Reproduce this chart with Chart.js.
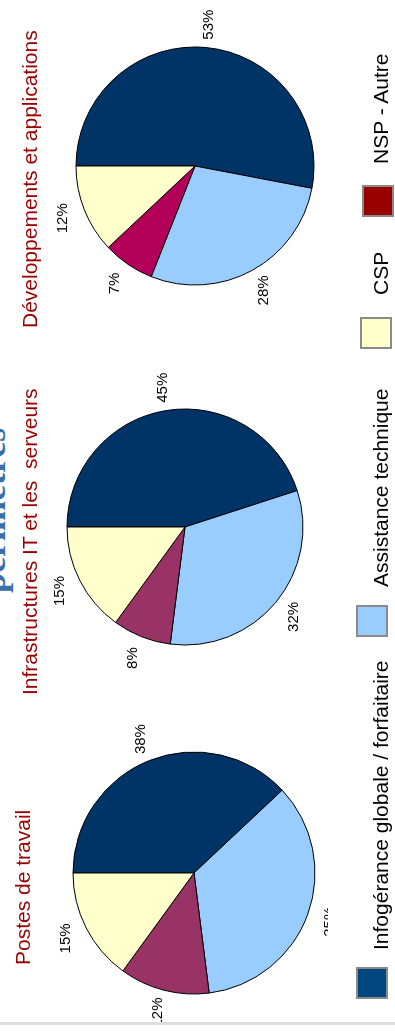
<!DOCTYPE html>
<html><head><meta charset="utf-8">
<script src="https://cdn.jsdelivr.net/npm/chart.js@4.4.1/dist/chart.umd.min.js"></script>
<style>
html,body{margin:0;padding:0;background:#fff;overflow:hidden;width:395px;height:1032px;}
#page{position:absolute;left:0;top:0;width:1032px;height:395px;transform-origin:0 0;transform:translateY(1032px) rotate(-90deg);font-family:"Liberation Sans",Arial,sans-serif;overflow:hidden;background:#fff;}
canvas.c{position:absolute;z-index:1;}
.title{position:absolute;color:#990000;font-size:21px;line-height:21px;white-space:pre;z-index:1;}
.big{position:absolute;color:#3a6ea8;font-family:"Liberation Serif","Times New Roman",serif;font-weight:bold;font-size:36px;line-height:36px;white-space:pre;z-index:1;}
#mask{position:absolute;left:13px;top:328px;width:1019px;height:67px;background:#fff;z-index:2;}
.sq{position:absolute;width:32px;height:32px;box-sizing:border-box;border:2px solid #8a8a8a;z-index:3;}
.lt{position:absolute;top:370px;font-size:21px;line-height:21px;color:#000;white-space:pre;z-index:3;}
#edge{position:absolute;left:0;top:0;width:7px;height:395px;background:#fff;z-index:4;}
#line{position:absolute;left:7px;top:0;width:3px;height:395px;background:#dcdcdc;z-index:4;}
</style></head>
<body>
<div id="page">
  <div class="big" style="left:439px;top:-25px;">périmètres</div>
  <div id="mask"></div>
  <div id="edge"></div><div id="line"></div>
</div>
<script>
// ---- data ----
const categories = ["Infogérance globale / forfaitaire", "Assistance technique", "NSP - Autre", "CSP"];
const chartTitles = ["Postes de travail", "Infrastructures IT et les  serveurs", "Développements et applications"];
const postesValues = [38, 35, 12, 15];
const infraValues = [45, 32, 8, 15];
const devValues = [53, 28, 7, 12];
const legendOrder = ["Infogérance globale / forfaitaire", "Assistance technique", "CSP", "NSP - Autre"];

// ---- styles / layout ----
const sliceColors = [
  ["#003366", "#99CCFF", "#993366", "#FFFFCC"],
  ["#003366", "#99CCFF", "#993366", "#FFFFCC"],
  ["#003366", "#99CCFF", "#B30059", "#FFFFCC"]
];
const legendColors = {"Infogérance globale / forfaitaire":"#00467F","Assistance technique":"#99CCFF","CSP":"#FFFFCC","NSP - Autre":"#990000"};
const pies = [
  {values: postesValues, cx: 159, cy: 194, r: 121, title: {left: 67, top: 12}},
  {values: infraValues,  cx: 505, cy: 185, r: 118, title: {left: 337, top: 19}},
  {values: devValues,    cx: 866, cy: 195, r: 119, title: {left: 704, top: 19}}
];
const legendPos = [
  {sq: [33, 356], txt: 82},
  {sq: [395, 356], txt: 445},
  {sq: [683, 360], txt: 737},
  {sq: [815, 362], txt: 868}
];

const page = document.getElementById('page');
const SIZE = 340;

const labelPlugin = {
  id: 'pctLabels',
  afterDatasetsDraw(chart) {
    const ctx = chart.ctx;
    const meta = chart.getDatasetMeta(0);
    const vals = chart.data.datasets[0].data;
    ctx.save();
    ctx.font = '15px "Liberation Sans", Arial, sans-serif';
    ctx.fillStyle = '#000';
    ctx.textAlign = 'center';
    ctx.textBaseline = 'middle';
    meta.data.forEach((arc, i) => {
      const p = arc.getProps(['x','y','startAngle','endAngle','outerRadius'], true);
      const mid = (p.startAngle + p.endAngle) / 2;
      const d = p.outerRadius + 23;
      ctx.fillText(vals[i] + '%', p.x + Math.cos(mid) * d, p.y + Math.sin(mid) * d);
    });
    ctx.restore();
  }
};

pies.forEach((pie, k) => {
  const cv = document.createElement('canvas');
  cv.className = 'c';
  cv.width = SIZE; cv.height = SIZE;
  cv.style.width = SIZE + 'px'; cv.style.height = SIZE + 'px';
  cv.style.left = (pie.cx - SIZE / 2) + 'px';
  cv.style.top = (pie.cy - SIZE / 2) + 'px';
  page.appendChild(cv);
  new Chart(cv, {
    type: 'pie',
    data: {
      labels: categories,
      datasets: [{
        data: pie.values,
        backgroundColor: sliceColors[k],
        borderColor: '#000',
        borderWidth: 1,
        hoverOffset: 0
      }]
    },
    options: {
      responsive: false,
      animation: false,
      events: [],
      radius: pie.r,
      layout: {padding: 0},
      plugins: {legend: {display: false}, tooltip: {enabled: false}}
    },
    plugins: [labelPlugin]
  });
  const t = document.createElement('div');
  t.className = 'title';
  t.textContent = chartTitles[k];
  t.style.left = pie.title.left + 'px';
  t.style.top = pie.title.top + 'px';
  page.appendChild(t);
});

legendOrder.forEach((name, i) => {
  const s = document.createElement('div');
  s.className = 'sq';
  s.style.left = legendPos[i].sq[0] + 'px';
  s.style.top = legendPos[i].sq[1] + 'px';
  s.style.background = legendColors[name];
  page.appendChild(s);
  const t = document.createElement('div');
  t.className = 'lt';
  t.textContent = name;
  t.style.left = legendPos[i].txt + 'px';
  page.appendChild(t);
});
</script>
</body></html>
